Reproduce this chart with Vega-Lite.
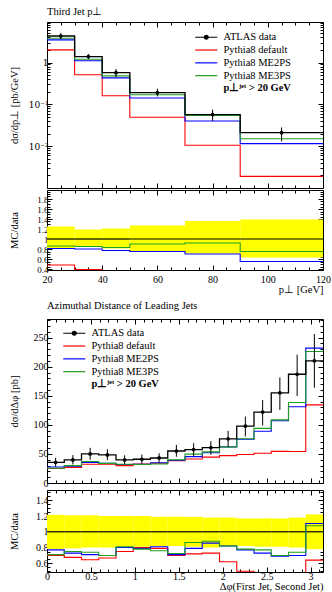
{
"$schema": "https://vega.github.io/schema/vega-lite/v6.json",
"padding": {"left": 8, "top": 6, "right": 0, "bottom": 0},
"autosize": {"type": "pad"},
"datasets": {
"p1": [
{"x":20,"ATLAS data":4.3,"Pythia8 default":2.0,"Pythia8 ME2PS":3.47,"Pythia8 ME3PS":3.8},
{"x":30,"ATLAS data":1.39,"Pythia8 default":0.51,"Pythia8 ME2PS":1.1,"Pythia8 ME3PS":1.2},
{"x":40,"ATLAS data":0.57,"Pythia8 default":0.16,"Pythia8 ME2PS":0.43,"Pythia8 ME3PS":0.48},
{"x":50,"ATLAS data":0.19,"Pythia8 default":0.049,"Pythia8 ME2PS":0.142,"Pythia8 ME3PS":0.17},
{"x":70,"ATLAS data":0.057,"Pythia8 default":0.0105,"Pythia8 ME2PS":0.040,"Pythia8 ME3PS":0.054},
{"x":90,"ATLAS data":0.021,"Pythia8 default":0.0019,"Pythia8 ME2PS":0.0115,"Pythia8 ME3PS":0.015},
{"x":120,"ATLAS data":0.021,"Pythia8 default":0.0019,"Pythia8 ME2PS":0.0115,"Pythia8 ME3PS":0.015}
],
"p1pts": [
{"x":25,"y":4.3,"lo":3.6,"hi":5.1},
{"x":35,"y":1.39,"lo":1.2,"hi":1.6},
{"x":45,"y":0.57,"lo":0.45,"hi":0.70},
{"x":60,"y":0.19,"lo":0.155,"hi":0.236},
{"x":80,"y":0.057,"lo":0.040,"hi":0.075},
{"x":105,"y":0.021,"lo":0.013,"hi":0.028}
],
"p1band": [
{"lo":20,"hi":30,"blo":0.81,"bhi":1.25},
{"lo":30,"hi":40,"blo":0.85,"bhi":1.19},
{"lo":40,"hi":50,"blo":0.81,"bhi":1.21},
{"lo":50,"hi":70,"blo":0.75,"bhi":1.27},
{"lo":70,"hi":90,"blo":0.71,"bhi":1.36},
{"lo":90,"hi":120,"blo":0.63,"bhi":1.39}
],
"p1r": [
{"x":20,"Pythia8 default":0.48,"Pythia8 ME2PS":0.81,"Pythia8 ME3PS":0.86},
{"x":30,"Pythia8 default":0.39,"Pythia8 ME2PS":0.80,"Pythia8 ME3PS":0.85},
{"x":40,"Pythia8 default":0.28,"Pythia8 ME2PS":0.77,"Pythia8 ME3PS":0.83},
{"x":50,"Pythia8 default":0.26,"Pythia8 ME2PS":0.75,"Pythia8 ME3PS":0.90},
{"x":70,"Pythia8 default":0.18,"Pythia8 ME2PS":0.70,"Pythia8 ME3PS":0.92},
{"x":90,"Pythia8 default":0.09,"Pythia8 ME2PS":0.55,"Pythia8 ME3PS":0.75},
{"x":120,"Pythia8 default":0.09,"Pythia8 ME2PS":0.55,"Pythia8 ME3PS":0.75}
],
"p2": [
{"x":0,"ATLAS data":35.6,"Pythia8 default":24.9,"Pythia8 ME2PS":27.4,"Pythia8 ME3PS":25.3},
{"x":0.19635,"ATLAS data":39.7,"Pythia8 default":26.8,"Pythia8 ME2PS":29.0,"Pythia8 ME3PS":29.8},
{"x":0.3927,"ATLAS data":50,"Pythia8 default":32.3,"Pythia8 ME2PS":35.5,"Pythia8 ME3PS":37},
{"x":0.58905,"ATLAS data":48.3,"Pythia8 default":32.2,"Pythia8 ME2PS":33.8,"Pythia8 ME3PS":33.8},
{"x":0.7854,"ATLAS data":39.7,"Pythia8 default":29.8,"Pythia8 ME2PS":31.8,"Pythia8 ME3PS":32.2},
{"x":0.98175,"ATLAS data":40.8,"Pythia8 default":32.6,"Pythia8 ME2PS":32.2,"Pythia8 ME3PS":31.8},
{"x":1.1781,"ATLAS data":43,"Pythia8 default":34,"Pythia8 ME2PS":34.8,"Pythia8 ME3PS":32.7},
{"x":1.37445,"ATLAS data":55,"Pythia8 default":38.5,"Pythia8 ME2PS":39.1,"Pythia8 ME3PS":39.9},
{"x":1.5708,"ATLAS data":57.4,"Pythia8 default":41.3,"Pythia8 ME2PS":45.3,"Pythia8 ME3PS":49.7},
{"x":1.76715,"ATLAS data":60.9,"Pythia8 default":44.5,"Pythia8 ME2PS":52.1,"Pythia8 ME3PS":53.6},
{"x":1.9635,"ATLAS data":75.9,"Pythia8 default":47.1,"Pythia8 ME2PS":62.2,"Pythia8 ME3PS":62.2},
{"x":2.15985,"ATLAS data":97.7,"Pythia8 default":48.9,"Pythia8 ME2PS":75.2,"Pythia8 ME3PS":76.2},
{"x":2.3562,"ATLAS data":122,"Pythia8 default":51.2,"Pythia8 ME2PS":89.1,"Pythia8 ME3PS":93.9},
{"x":2.55255,"ATLAS data":155,"Pythia8 default":54.3,"Pythia8 ME2PS":107,"Pythia8 ME3PS":108.5},
{"x":2.7489,"ATLAS data":187,"Pythia8 default":54.2,"Pythia8 ME2PS":131,"Pythia8 ME3PS":138.4},
{"x":2.94525,"ATLAS data":210,"Pythia8 default":134.4,"Pythia8 ME2PS":232,"Pythia8 ME3PS":226},
{"x":3.14159,"ATLAS data":210,"Pythia8 default":134.4,"Pythia8 ME2PS":232,"Pythia8 ME3PS":226}
],
"p2pts": [
{"x":0.0982,"y":35.6,"lo":28.1,"hi":43.4},
{"x":0.2945,"y":39.7,"lo":31.8,"hi":48.0},
{"x":0.4909,"y":50,"lo":40,"hi":60.5},
{"x":0.6872,"y":48.3,"lo":39.1,"hi":58.0},
{"x":0.8836,"y":39.7,"lo":32.2,"hi":47.6},
{"x":1.0799,"y":40.8,"lo":33.0,"hi":49.0},
{"x":1.2763,"y":43,"lo":35.3,"hi":51.2},
{"x":1.4726,"y":55,"lo":45.1,"hi":65.5},
{"x":1.669,"y":57.4,"lo":46.5,"hi":68.3},
{"x":1.8653,"y":60.9,"lo":48.7,"hi":71.9},
{"x":2.0617,"y":75.9,"lo":62.2,"hi":89.6},
{"x":2.258,"y":97.7,"lo":80.1,"hi":114.3},
{"x":2.4544,"y":122,"lo":98.8,"hi":142.7},
{"x":2.6507,"y":155,"lo":125.6,"hi":181.4},
{"x":2.8471,"y":187,"lo":149.6,"hi":220.7},
{"x":3.0434,"y":210,"lo":163.8,"hi":256.2}
],
"p2band": [
{"lo":0,"hi":0.19635,"blo":0.78,"bhi":1.215},
{"lo":0.19635,"hi":0.3927,"blo":0.79,"bhi":1.21},
{"lo":0.3927,"hi":0.58905,"blo":0.80,"bhi":1.21},
{"lo":0.58905,"hi":0.7854,"blo":0.80,"bhi":1.20},
{"lo":0.7854,"hi":0.98175,"blo":0.81,"bhi":1.20},
{"lo":0.98175,"hi":1.1781,"blo":0.81,"bhi":1.20},
{"lo":1.1781,"hi":1.37445,"blo":0.82,"bhi":1.19},
{"lo":1.37445,"hi":1.5708,"blo":0.82,"bhi":1.19},
{"lo":1.5708,"hi":1.76715,"blo":0.81,"bhi":1.19},
{"lo":1.76715,"hi":1.9635,"blo":0.80,"bhi":1.18},
{"lo":1.9635,"hi":2.15985,"blo":0.82,"bhi":1.18},
{"lo":2.15985,"hi":2.3562,"blo":0.82,"bhi":1.17},
{"lo":2.3562,"hi":2.55255,"blo":0.81,"bhi":1.17},
{"lo":2.55255,"hi":2.7489,"blo":0.81,"bhi":1.17},
{"lo":2.7489,"hi":2.94525,"blo":0.80,"bhi":1.18},
{"lo":2.94525,"hi":3.14159,"blo":0.78,"bhi":1.22}
],
"p2r": [
{"x":0,"Pythia8 default":0.70,"Pythia8 ME2PS":0.77,"Pythia8 ME3PS":0.71},
{"x":0.19635,"Pythia8 default":0.675,"Pythia8 ME2PS":0.73,"Pythia8 ME3PS":0.75},
{"x":0.3927,"Pythia8 default":0.645,"Pythia8 ME2PS":0.71,"Pythia8 ME3PS":0.74},
{"x":0.58905,"Pythia8 default":0.667,"Pythia8 ME2PS":0.70,"Pythia8 ME3PS":0.70},
{"x":0.7854,"Pythia8 default":0.75,"Pythia8 ME2PS":0.80,"Pythia8 ME3PS":0.81},
{"x":0.98175,"Pythia8 default":0.80,"Pythia8 ME2PS":0.79,"Pythia8 ME3PS":0.78},
{"x":1.1781,"Pythia8 default":0.79,"Pythia8 ME2PS":0.81,"Pythia8 ME3PS":0.76},
{"x":1.37445,"Pythia8 default":0.70,"Pythia8 ME2PS":0.71,"Pythia8 ME3PS":0.725},
{"x":1.5708,"Pythia8 default":0.72,"Pythia8 ME2PS":0.79,"Pythia8 ME3PS":0.865},
{"x":1.76715,"Pythia8 default":0.73,"Pythia8 ME2PS":0.856,"Pythia8 ME3PS":0.88},
{"x":1.9635,"Pythia8 default":0.62,"Pythia8 ME2PS":0.82,"Pythia8 ME3PS":0.82},
{"x":2.15985,"Pythia8 default":0.50,"Pythia8 ME2PS":0.77,"Pythia8 ME3PS":0.78},
{"x":2.3562,"Pythia8 default":0.42,"Pythia8 ME2PS":0.73,"Pythia8 ME3PS":0.77},
{"x":2.55255,"Pythia8 default":0.35,"Pythia8 ME2PS":0.69,"Pythia8 ME3PS":0.70},
{"x":2.7489,"Pythia8 default":0.29,"Pythia8 ME2PS":0.70,"Pythia8 ME3PS":0.74},
{"x":2.94525,"Pythia8 default":0.64,"Pythia8 ME2PS":1.105,"Pythia8 ME3PS":1.076},
{"x":3.14159,"Pythia8 default":0.64,"Pythia8 ME2PS":1.105,"Pythia8 ME3PS":1.076}
]
},
"spacing": 5,
"resolve": {"scale": {"color": "independent", "x": "independent", "y": "independent"}, "legend": {"color": "independent"}},
"vconcat": [
{
"spacing": 0,
"resolve": {"scale": {"color": "independent", "x": "independent", "y": "independent"}, "legend": {"color": "independent"}},
"vconcat": [
{
"width": 276, "height": 166,
"title": {"text": "Third Jet p⊥", "anchor": "start", "frame": "group", "offset": 4},
"resolve": {"axis": {"x": "independent", "y": "independent"}},
"layer": [
{"data": {"name": "p1"},
 "transform": [{"fold": ["Pythia8 default", "Pythia8 ME2PS", "Pythia8 ME3PS"], "as": ["series", "y"]}],
 "mark": {"type": "line", "interpolate": "step-after", "strokeWidth": 1.1},
 "encoding": {
  "x": {"field": "x", "type": "quantitative", "scale": {"domain": [20, 120], "nice": false, "zero": false},
        "axis": {"orient": "bottom", "values": [20,40,60,80,100,120], "labels": false, "tickSize": -5, "title": null}},
  "y": {"field": "y", "type": "quantitative", "scale": {"type": "log", "domain": [0.001, 9.3], "nice": false},
        "axis": {"orient": "left", "values": [0.01, 0.1, 1], "tickSize": -5, "labelPadding": 4, "labelFont": "DejaVu Serif", "labelFontSize": 9, "labelExpr": "datum.value >= 0.5 ? '1' : datum.value >= 0.05 ? '10⁻¹' : '10⁻²'", "title": "dσ/dp⊥ [pb/GeV]", "titleX": -28}},
  "color": {"field": "series", "type": "nominal",
   "scale": {"domain": ["ATLAS data", "Pythia8 default", "Pythia8 ME2PS", "Pythia8 ME3PS", "p⊥ʲᵉᵗ > 20 GeV"], "range": ["#000000", "#ff0000", "#0000ff", "#1f9f1f", "rgba(0,0,0,0)"]},
   "legend": {"orient": "none", "legendX": 154, "legendY": 10, "title": null, "padding": 0,
     "symbolType": "M-3,0H3", "symbolSize": 54, "symbolStrokeWidth": 1.2,
     "labelFont": "Liberation Serif", "labelFontSize": 10.5, "labelColor": "#000", "labelOffset": 12, "labelLimit": 300, "rowPadding": 1.8,
     "encode": {
      "symbols": {"update": {
        "shape": {"signal": "datum.value === 'ATLAS data' ? 'M-3,0H3M0.55,0A0.55,0.55,0,1,1,-0.55,0A0.55,0.55,0,1,1,0.55,0Z' : 'M-3,0H3'"},
        "fill": {"signal": "datum.value === 'ATLAS data' ? '#000000' : 'transparent'"}}},
      "labels": {"update": {"fontWeight": {"signal": "indexof(datum.value, 'GeV') >= 0 ? 'bold' : 'normal'"}}}
     }}}
 }},
{"data": {"name": "p1"},
 "mark": {"type": "line", "interpolate": "step-after", "strokeWidth": 1.3, "color": "#000000"},
 "encoding": {
  "x": {"field": "x", "type": "quantitative", "axis": {"orient": "top", "values": [20,40,60,80,100,120], "labels": false, "tickSize": -5, "title": null}},
  "y": {"field": "ATLAS data", "type": "quantitative", "axis": {"orient": "right", "values": [0.01, 0.1, 1], "labels": false, "tickSize": -5, "title": null}}
 }},
{"data": {"name": "p1pts"},
 "mark": {"type": "rule", "strokeWidth": 1, "color": "#000000"},
 "encoding": {
  "x": {"field": "x", "type": "quantitative", "axis": {"orient": "bottom", "values": [25,30,35,45,50,55,65,70,75,85,90,95,105,110,115], "labels": false, "tickSize": -3, "title": null}},
  "y": {"field": "lo", "type": "quantitative", "axis": {"orient": "left", "values": [0.002,0.003,0.004,0.005,0.006,0.007,0.008,0.009,0.02,0.03,0.04,0.05,0.06,0.07,0.08,0.09,0.2,0.3,0.4,0.5,0.6,0.7,0.8,0.9,2,3,4,5,6,7,8,9], "labels": false, "tickSize": -3, "title": null}},
  "y2": {"field": "hi"}
 }},
{"data": {"name": "p1pts"},
 "mark": {"type": "point", "filled": true, "size": 14, "color": "#000000", "opacity": 1},
 "encoding": {
  "x": {"field": "x", "type": "quantitative", "axis": {"orient": "top", "values": [25,30,35,45,50,55,65,70,75,85,90,95,105,110,115], "labels": false, "tickSize": -3, "title": null}},
  "y": {"field": "y", "type": "quantitative", "axis": {"orient": "right", "values": [0.002,0.003,0.004,0.005,0.006,0.007,0.008,0.009,0.02,0.03,0.04,0.05,0.06,0.07,0.08,0.09,0.2,0.3,0.4,0.5,0.6,0.7,0.8,0.9,2,3,4,5,6,7,8,9], "labels": false, "tickSize": -3, "title": null}}
 }}
]
},
{
"width": 276, "height": 80,
"resolve": {"axis": {"x": "independent", "y": "independent"}},
"layer": [
{"data": {"name": "p1band"},
 "mark": {"type": "rect", "color": "#ffff00", "opacity": 1},
 "encoding": {
  "x": {"field": "lo", "type": "quantitative", "scale": {"domain": [20, 120], "nice": false, "zero": false},
        "axis": {"orient": "bottom", "values": [20,40,60,80,100,120], "tickSize": -5, "labelPadding": 9, "format": "~r", "title": "p⊥ [GeV]", "titleAnchor": "end", "titlePadding": 0}},
  "x2": {"field": "hi"},
  "y": {"field": "blo", "type": "quantitative", "scale": {"domain": [0.38, 1.98], "nice": false, "zero": false},
        "axis": {"orient": "left", "values": [0.4,0.6,0.8,1,1.2,1.4,1.6,1.8], "tickSize": -5, "labelPadding": 4, "labelFontSize": 9, "format": "~r", "title": "MC/data", "titleX": -28,
                 "encode": {"labels": {"update": {"dy": {"signal": "datum.value < 0.45 ? -2 : 0"}}}}}},
  "y2": {"field": "bhi"}
 }},
{"data": {"name": "p1band"},
 "mark": {"type": "rule", "color": "#000000", "strokeWidth": 1.2},
 "encoding": {
  "x": {"field": "lo", "type": "quantitative", "axis": {"orient": "top", "values": [20,40,60,80,100,120], "labels": false, "tickSize": -5, "title": null}},
  "x2": {"field": "hi"},
  "y": {"datum": 1, "type": "quantitative", "axis": {"orient": "right", "values": [0.4,0.6,0.8,1,1.2,1.4,1.6,1.8], "labels": false, "tickSize": -5, "title": null}}
 }},
{"data": {"name": "p1r"},
 "transform": [{"fold": ["Pythia8 default"], "as": ["series", "r"]}],
 "mark": {"type": "line", "interpolate": "step-after", "strokeWidth": 1.1, "clip": true},
 "encoding": {
  "x": {"field": "x", "type": "quantitative", "axis": {"orient": "bottom", "values": [25,30,35,45,50,55,65,70,75,85,90,95,105,110,115], "labels": false, "tickSize": -3, "title": null}},
  "y": {"field": "r", "type": "quantitative", "axis": {"orient": "left", "values": [0.45,0.5,0.55,0.65,0.7,0.75,0.85,0.9,0.95,1.05,1.1,1.15,1.25,1.3,1.35,1.45,1.5,1.55,1.65,1.7,1.75,1.85,1.9,1.95], "labels": false, "tickSize": -3, "title": null}},
  "color": {"field": "series", "type": "nominal", "scale": {"domain": ["ATLAS data", "Pythia8 default", "Pythia8 ME2PS", "Pythia8 ME3PS"], "range": ["#000000", "#ff0000", "#0000ff", "#1f9f1f"]}, "legend": null}
 }},
{"data": {"name": "p1r"},
 "transform": [{"fold": ["Pythia8 ME2PS", "Pythia8 ME3PS"], "as": ["series", "r"]}],
 "mark": {"type": "line", "interpolate": "step-after", "strokeWidth": 1.1, "clip": true},
 "encoding": {
  "x": {"field": "x", "type": "quantitative", "axis": {"orient": "top", "values": [25,30,35,45,50,55,65,70,75,85,90,95,105,110,115], "labels": false, "tickSize": -3, "title": null}},
  "y": {"field": "r", "type": "quantitative", "axis": {"orient": "right", "values": [0.45,0.5,0.55,0.65,0.7,0.75,0.85,0.9,0.95,1.05,1.1,1.15,1.25,1.3,1.35,1.45,1.5,1.55,1.65,1.7,1.75,1.85,1.9,1.95], "labels": false, "tickSize": -3, "title": null}},
  "color": {"field": "series", "type": "nominal", "legend": null}
 }}
]
}
]
},
{
"spacing": 0,
"resolve": {"scale": {"color": "independent", "x": "independent", "y": "independent"}, "legend": {"color": "independent"}},
"vconcat": [
{
"width": 276, "height": 164,
"title": {"text": "Azimuthal Distance of Leading Jets", "anchor": "start", "frame": "group", "offset": 7},
"resolve": {"axis": {"x": "independent", "y": "independent"}},
"layer": [
{"data": {"name": "p2"},
 "transform": [{"fold": ["Pythia8 default", "Pythia8 ME2PS", "Pythia8 ME3PS"], "as": ["series", "y"]}],
 "mark": {"type": "line", "interpolate": "step-after", "strokeWidth": 1.1},
 "encoding": {
  "x": {"field": "x", "type": "quantitative", "scale": {"domain": [0, 3.14159], "nice": false, "zero": false},
        "axis": {"orient": "bottom", "values": [0,0.5,1,1.5,2,2.5,3], "labels": false, "tickSize": -5, "title": null}},
  "y": {"field": "y", "type": "quantitative", "scale": {"domain": [0, 282], "nice": false, "zero": false},
        "axis": {"orient": "left", "values": [0,50,100,150,200,250], "tickSize": -5, "labelPadding": 4, "format": "~r", "title": "dσ/dΔφ [pb]", "titleX": -28}},
  "color": {"field": "series", "type": "nominal",
   "scale": {"domain": ["ATLAS data", "Pythia8 default", "Pythia8 ME2PS", "Pythia8 ME3PS", "p⊥ʲᵉᵗ > 20 GeV"], "range": ["#000000", "#ff0000", "#0000ff", "#1f9f1f", "rgba(0,0,0,0)"]},
   "legend": {"orient": "none", "legendX": 22, "legendY": 9, "title": null, "padding": 0,
     "symbolType": "M-3,0H3", "symbolSize": 54, "symbolStrokeWidth": 1.2,
     "labelFont": "Liberation Serif", "labelFontSize": 10.5, "labelColor": "#000", "labelOffset": 12, "labelLimit": 300, "rowPadding": 1.8,
     "encode": {
      "symbols": {"update": {
        "shape": {"signal": "datum.value === 'ATLAS data' ? 'M-3,0H3M0.55,0A0.55,0.55,0,1,1,-0.55,0A0.55,0.55,0,1,1,0.55,0Z' : 'M-3,0H3'"},
        "fill": {"signal": "datum.value === 'ATLAS data' ? '#000000' : 'transparent'"}}},
      "labels": {"update": {"fontWeight": {"signal": "indexof(datum.value, 'GeV') >= 0 ? 'bold' : 'normal'"}}}
     }}}
 }},
{"data": {"name": "p2"},
 "mark": {"type": "line", "interpolate": "step-after", "strokeWidth": 1.3, "color": "#000000"},
 "encoding": {
  "x": {"field": "x", "type": "quantitative", "axis": {"orient": "top", "values": [0,0.5,1,1.5,2,2.5,3], "labels": false, "tickSize": -5, "title": null}},
  "y": {"field": "ATLAS data", "type": "quantitative", "axis": {"orient": "right", "values": [0,50,100,150,200,250], "labels": false, "tickSize": -5, "title": null}}
 }},
{"data": {"name": "p2pts"},
 "mark": {"type": "rule", "strokeWidth": 1, "color": "#000000"},
 "encoding": {
  "x": {"field": "x", "type": "quantitative", "axis": {"orient": "bottom", "values": [0.1,0.2,0.3,0.4,0.6,0.7,0.8,0.9,1.1,1.2,1.3,1.4,1.6,1.7,1.8,1.9,2.1,2.2,2.3,2.4,2.6,2.7,2.8,2.9,3.1], "labels": false, "tickSize": -3, "title": null}},
  "y": {"field": "lo", "type": "quantitative", "axis": {"orient": "left", "values": [10,20,30,40,60,70,80,90,110,120,130,140,160,170,180,190,210,220,230,240,260,270,280], "labels": false, "tickSize": -3, "title": null}},
  "y2": {"field": "hi"}
 }},
{"data": {"name": "p2pts"},
 "mark": {"type": "point", "filled": true, "size": 14, "color": "#000000", "opacity": 1},
 "encoding": {
  "x": {"field": "x", "type": "quantitative", "axis": {"orient": "top", "values": [0.1,0.2,0.3,0.4,0.6,0.7,0.8,0.9,1.1,1.2,1.3,1.4,1.6,1.7,1.8,1.9,2.1,2.2,2.3,2.4,2.6,2.7,2.8,2.9,3.1], "labels": false, "tickSize": -3, "title": null}},
  "y": {"field": "y", "type": "quantitative", "axis": {"orient": "right", "values": [10,20,30,40,60,70,80,90,110,120,130,140,160,170,180,190,210,220,230,240,260,270,280], "labels": false, "tickSize": -3, "title": null}}
 }}
]
},
{
"width": 276, "height": 82,
"resolve": {"axis": {"x": "independent", "y": "independent"}},
"layer": [
{"data": {"name": "p2band"},
 "mark": {"type": "rect", "color": "#ffff00", "opacity": 1},
 "encoding": {
  "x": {"field": "lo", "type": "quantitative", "scale": {"domain": [0, 3.14159], "nice": false, "zero": false},
        "axis": {"orient": "bottom", "values": [0,0.5,1,1.5,2,2.5,3], "tickSize": -5, "labelPadding": 4, "format": "~r", "title": "Δφ(First Jet, Second Jet)", "titleAnchor": "end", "titlePadding": 0}},
  "x2": {"field": "hi"},
  "y": {"field": "blo", "type": "quantitative", "scale": {"domain": [0.49, 1.53], "nice": false, "zero": false},
        "axis": {"orient": "left", "values": [0.6,0.8,1,1.2,1.4], "tickSize": -5, "labelPadding": 4, "format": "~r", "title": "MC/data", "titleX": -28}},
  "y2": {"field": "bhi"}
 }},
{"data": {"name": "p2band"},
 "mark": {"type": "rule", "color": "#000000", "strokeWidth": 1.2},
 "encoding": {
  "x": {"field": "lo", "type": "quantitative", "axis": {"orient": "top", "values": [0,0.5,1,1.5,2,2.5,3], "labels": false, "tickSize": -5, "title": null}},
  "x2": {"field": "hi"},
  "y": {"datum": 1, "type": "quantitative", "axis": {"orient": "right", "values": [0.6,0.8,1,1.2,1.4], "labels": false, "tickSize": -5, "title": null}}
 }},
{"data": {"name": "p2r"},
 "transform": [{"fold": ["Pythia8 default"], "as": ["series", "r"]}],
 "mark": {"type": "line", "interpolate": "step-after", "strokeWidth": 1.1, "clip": true},
 "encoding": {
  "x": {"field": "x", "type": "quantitative", "axis": {"orient": "bottom", "values": [0.1,0.2,0.3,0.4,0.6,0.7,0.8,0.9,1.1,1.2,1.3,1.4,1.6,1.7,1.8,1.9,2.1,2.2,2.3,2.4,2.6,2.7,2.8,2.9,3.1], "labels": false, "tickSize": -3, "title": null}},
  "y": {"field": "r", "type": "quantitative", "axis": {"orient": "left", "values": [0.5,0.55,0.65,0.7,0.75,0.85,0.9,0.95,1.05,1.1,1.15,1.25,1.3,1.35,1.45,1.5], "labels": false, "tickSize": -3, "title": null}},
  "color": {"field": "series", "type": "nominal", "scale": {"domain": ["ATLAS data", "Pythia8 default", "Pythia8 ME2PS", "Pythia8 ME3PS"], "range": ["#000000", "#ff0000", "#0000ff", "#1f9f1f"]}, "legend": null}
 }},
{"data": {"name": "p2r"},
 "transform": [{"fold": ["Pythia8 ME2PS", "Pythia8 ME3PS"], "as": ["series", "r"]}],
 "mark": {"type": "line", "interpolate": "step-after", "strokeWidth": 1.1, "clip": true},
 "encoding": {
  "x": {"field": "x", "type": "quantitative", "axis": {"orient": "top", "values": [0.1,0.2,0.3,0.4,0.6,0.7,0.8,0.9,1.1,1.2,1.3,1.4,1.6,1.7,1.8,1.9,2.1,2.2,2.3,2.4,2.6,2.7,2.8,2.9,3.1], "labels": false, "tickSize": -3, "title": null}},
  "y": {"field": "r", "type": "quantitative", "axis": {"orient": "right", "values": [0.5,0.55,0.65,0.7,0.75,0.85,0.9,0.95,1.05,1.1,1.15,1.25,1.3,1.35,1.45,1.5], "labels": false, "tickSize": -3, "title": null}},
  "color": {"field": "series", "type": "nominal", "legend": null}
 }}
]
}
]
}
],
"config": {
 "view": {"stroke": "#000000", "strokeWidth": 1},
 "axis": {"grid": false, "domain": false, "tickColor": "#000000", "tickWidth": 1, "labelFont": "Liberation Serif", "labelFontSize": 10, "labelColor": "#000000", "titleFont": "Liberation Serif", "titleFontSize": 10.5, "titleFontWeight": "normal", "titleColor": "#000000", "labelFlush": false, "labelOverlap": false, "zindex": 1},
 "title": {"font": "Liberation Serif", "fontSize": 10.5, "fontWeight": "normal", "color": "#000000"},
 "legend": {"labelFont": "Liberation Serif"}
}
}
